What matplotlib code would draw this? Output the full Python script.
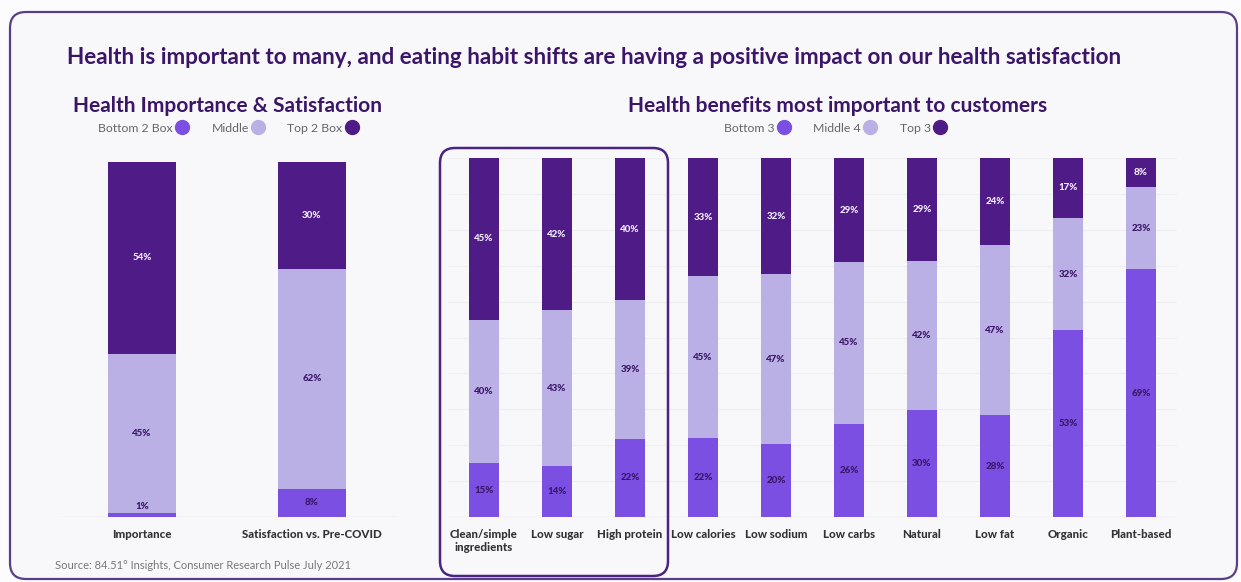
import numpy as np
import matplotlib
matplotlib.use("Agg")
from matplotlib import pyplot as plt
from matplotlib.patches import FancyBboxPatch
from matplotlib.lines import Line2D

plt.rcParams['font.family'] = ['Lato', 'DejaVu Sans']

# data
left_cats = ["Importance", "Satisfaction vs. Pre-COVID"]
left_bottom = [1, 8]
left_middle = [45, 62]
left_top = [54, 30]
left_legend = ["Bottom 2 Box", "Middle", "Top 2 Box"]

right_cats = ["Clean/simple\ningredients", "Low sugar", "High protein", "Low calories",
              "Low sodium", "Low carbs", "Natural", "Low fat", "Organic", "Plant-based"]
right_bottom = [15, 14, 22, 22, 20, 26, 30, 28, 53, 69]
right_middle = [40, 43, 39, 45, 47, 45, 42, 47, 32, 23]
right_top = [45, 42, 40, 33, 32, 29, 29, 24, 17, 8]
right_legend = ["Bottom 3", "Middle 4", "Top 3"]

c_bottom = "#7b4fe2"
c_middle = "#bab0e6"
c_top = "#4f1b86"
c_title = "#3b1567"
bg = "#f8f8fb"

fig = plt.figure(figsize=(12.41, 5.82), dpi=100, facecolor="#fcfcfe")

# outer rounded frame (inches)
fig.patches.append(FancyBboxPatch((0.10, 0.03), 12.27, 5.67,
                                  boxstyle="round,pad=0,rounding_size=0.16",
                                  transform=fig.dpi_scale_trans, facecolor=bg,
                                  edgecolor="#5b3d8a", linewidth=1.6, zorder=-5))

fig.text(0.054, 0.902, "Health is important to many, and eating habit shifts are having a positive impact on our health satisfaction",
         fontsize=16.2, fontweight="bold", color=c_title, va="center", ha="left")


def stacked(ax, cats, bottom, middle, top, width):
    x = np.arange(len(cats))
    b = np.array(bottom, float)
    m = np.array(middle, float)
    t = np.array(top, float)
    tot = b + m + t
    bn, mn, tn = b / tot * 100, m / tot * 100, t / tot * 100
    ax.bar(x, bn, width, color=c_bottom, zorder=2)
    ax.bar(x, mn, width, bottom=bn, color=c_middle, zorder=2)
    ax.bar(x, tn, width, bottom=bn + mn, color=c_top, zorder=2)
    for i in range(len(x)):
        ax.text(x[i], max(bn[i] / 2, 3), f"{int(b[i])}%", ha="center", va="center",
                fontsize=7, fontweight="black", color=c_title, zorder=3)
        ax.text(x[i], bn[i] + mn[i] / 2, f"{int(m[i])}%", ha="center", va="center",
                fontsize=7, fontweight="black", color=c_title, zorder=3)
        ax.text(x[i], bn[i] + mn[i] + tn[i] / 2, f"{int(t[i])}%", ha="center", va="center",
                fontsize=7, fontweight="black", color="#f3ecff", zorder=3)
    ax.set_xlim(-0.5, len(cats) - 0.5)
    ax.set_ylim(0, 100)
    ax.set_xticks(x)
    ax.set_xticklabels(cats, fontsize=8.3, fontweight="black", color="#333333", va="top")
    ax.tick_params(axis="x", length=0, pad=9)
    ax.tick_params(axis="y", length=0, labelleft=False)
    ax.set_facecolor("none")
    for s in ax.spines.values():
        s.set_visible(False)
    ax.axhline(0, color="#e2e2e8", lw=1, zorder=1)


ax1 = fig.add_axes([0.0459, 0.1117, 0.274, 0.6099])
stacked(ax1, left_cats, left_bottom, left_middle, left_top, 0.4)
ax1.set_yticks([])

ax2 = fig.add_axes([0.3606, 0.1117, 0.5882, 0.6168])
stacked(ax2, right_cats, right_bottom, right_middle, right_top, 0.4)
ax2.set_yticks(np.arange(0, 101, 10))
ax2.grid(axis="y", color="#efeff3", lw=0.8, zorder=0)

# subtitles
fig.text(0.1837, 0.818, "Health Importance & Satisfaction", fontsize=15, fontweight="bold",
         color=c_title, ha="center", va="center")
fig.text(0.675, 0.818, "Health benefits most important to customers", fontsize=15, fontweight="bold",
         color=c_title, ha="center", va="center")


def legend(labels, x, y):
    handles = [Line2D([], [], marker="o", ls="", color=c, markersize=10)
               for c in (c_bottom, c_middle, c_top)]
    fig.legend(handles, labels, ncol=3, markerfirst=False, frameon=False, loc="center",
               bbox_to_anchor=(x, y), fontsize=8.8, labelcolor="#666666",
               handletextpad=0.25, columnspacing=1.9, handlelength=1.0)


legend(left_legend, 0.1837, 0.780)
legend(right_legend, 0.673, 0.780)

# highlight box around the top three benefits
fig.patches.append(FancyBboxPatch((4.40, 0.06), 2.28, 4.28,
                                  boxstyle="round,pad=0,rounding_size=0.15",
                                  transform=fig.dpi_scale_trans, facecolor="none",
                                  edgecolor="#4a2480", linewidth=1.8, zorder=5))

fig.text(0.0443, 0.029, "Source: 84.51° Insights, Consumer Research Pulse July 2021",
         fontsize=8, color="#777777", ha="left", va="center")

fig.savefig("out.png", dpi=100, facecolor=fig.get_facecolor())
